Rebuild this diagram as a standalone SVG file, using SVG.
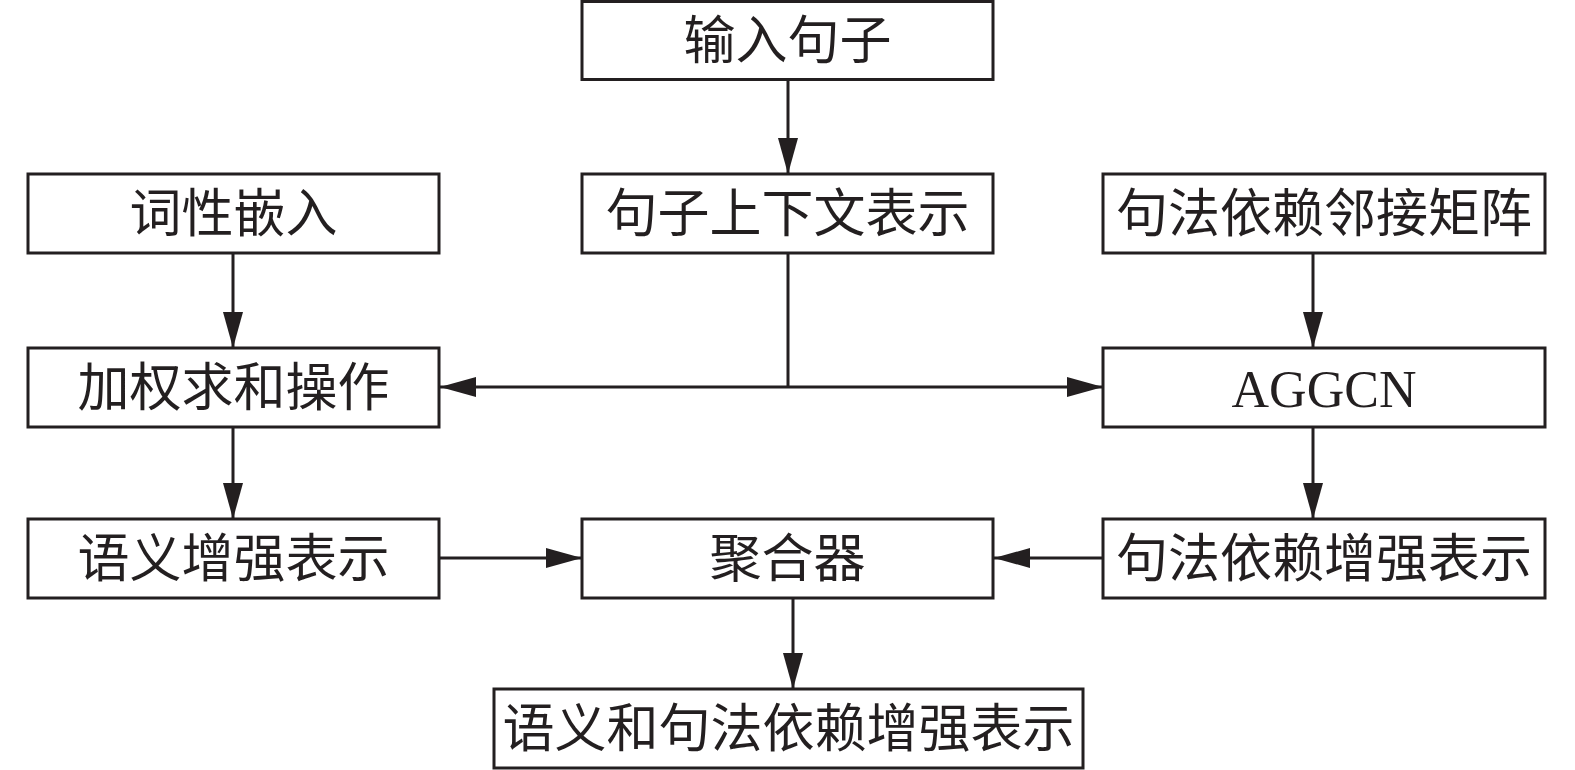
<svg xmlns="http://www.w3.org/2000/svg" width="1575" height="770" viewBox="0 0 1575 770">
<style>
.box{fill:#fff;stroke:#231f20;stroke-width:3}
.t{font-family:"Noto Sans CJK SC","Noto Sans CJK TC",sans-serif;font-size:52px;fill:#231f20;text-anchor:middle}
.e{font-family:"Liberation Serif",serif;font-size:52px;fill:#231f20;text-anchor:middle}
.ln{fill:none;stroke:#231f20;stroke-width:3}
</style>
<defs>
<marker id="ah" viewBox="0 0 36 20" refX="36" refY="10" markerWidth="36" markerHeight="20" markerUnits="userSpaceOnUse" orient="auto">
<path d="M0,0 L36,10 L0,20 Z" fill="#231f20"/>
</marker>
</defs>
<rect width="1575" height="770" fill="#fff"/>
<g id="connectors">
<line class="ln" x1="788" y1="80" x2="788" y2="174" marker-end="url(#ah)"/>
<line class="ln" x1="788" y1="253" x2="788" y2="387"/>
<line class="ln" x1="788" y1="387" x2="440" y2="387" marker-end="url(#ah)"/>
<line class="ln" x1="788" y1="387" x2="1103" y2="387" marker-end="url(#ah)"/>
<line class="ln" x1="233" y1="253" x2="233" y2="348" marker-end="url(#ah)"/>
<line class="ln" x1="233" y1="427" x2="233" y2="519" marker-end="url(#ah)"/>
<line class="ln" x1="1313" y1="253" x2="1313" y2="348" marker-end="url(#ah)"/>
<line class="ln" x1="1313" y1="427" x2="1313" y2="519" marker-end="url(#ah)"/>
<line class="ln" x1="440" y1="558" x2="582" y2="558" marker-end="url(#ah)"/>
<line class="ln" x1="1103" y1="558" x2="994" y2="558" marker-end="url(#ah)"/>
<line class="ln" x1="793" y1="599" x2="793" y2="689" marker-end="url(#ah)"/>
</g>
<g id="n-input"><rect class="box" x="582" y="1.5" width="411" height="78"/><text class="t" x="787.5" y="59">输入句子</text></g>
<g id="n-context"><rect class="box" x="582" y="174" width="411" height="79"/><text class="t" x="787.5" y="232">句子上下文表示</text></g>
<g id="n-pos"><rect class="box" x="28" y="174" width="411" height="79"/><text class="t" x="233.5" y="232">词性嵌入</text></g>
<g id="n-adj"><rect class="box" x="1103" y="174" width="442" height="79"/><text class="t" x="1324" y="232">句法依赖邻接矩阵</text></g>
<g id="n-weighted"><rect class="box" x="28" y="348" width="411" height="79"/><text class="t" x="233.5" y="406">加权求和操作</text></g>
<g id="n-aggcn"><rect class="box" x="1103" y="348" width="442" height="79"/><text class="e" x="1324" y="407">AGGCN</text></g>
<g id="n-sem"><rect class="box" x="28" y="519" width="411" height="79"/><text class="t" x="233.5" y="577">语义增强表示</text></g>
<g id="n-agg"><rect class="box" x="582" y="519" width="411" height="79"/><text class="t" x="787.5" y="577">聚合器</text></g>
<g id="n-syn"><rect class="box" x="1103" y="519" width="442" height="79"/><text class="t" x="1324" y="577">句法依赖增强表示</text></g>
<g id="n-out"><rect class="box" x="494" y="689" width="589" height="79"/><text class="t" x="788.5" y="747">语义和句法依赖增强表示</text></g>
</svg>
